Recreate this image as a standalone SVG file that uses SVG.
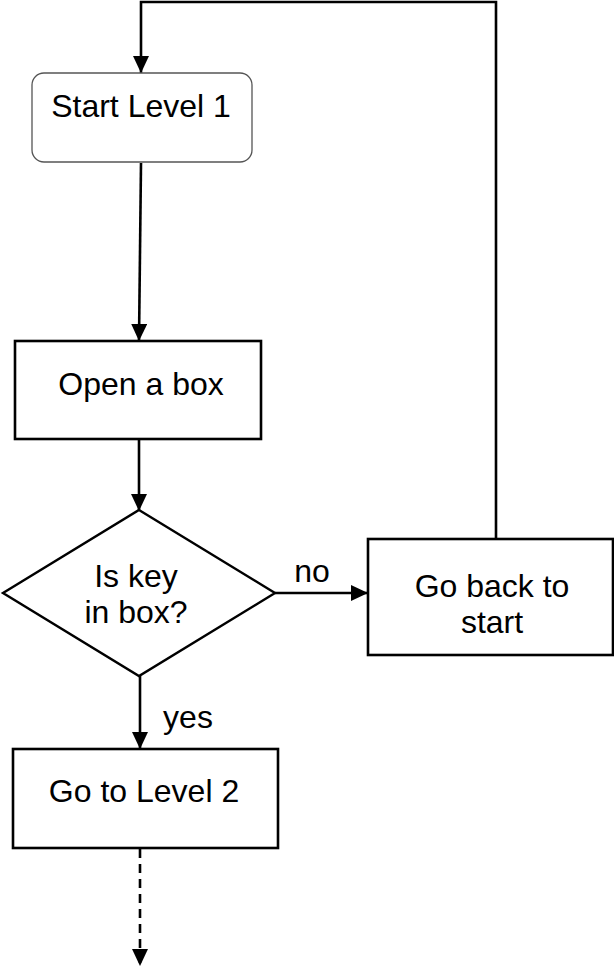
<svg xmlns="http://www.w3.org/2000/svg" width="614" height="966" viewBox="0 0 614 966">
<style>
  .lbl { font-family: "Liberation Sans", Arial, sans-serif; font-size: 32px; fill: #000; text-anchor: middle; }
  .box { fill: #fff; stroke: #000; stroke-width: 2.6; }
  .edge { fill: none; stroke: #000; stroke-width: 2.6; }
</style>
<defs>
  <marker id="arr" markerUnits="userSpaceOnUse" markerWidth="17" markerHeight="16" refX="17" refY="8" orient="auto">
    <path d="M0,0 L17,8 L0,16 z" fill="#000"/>
  </marker>
</defs>
<rect width="614" height="966" fill="#fff"/>
<g id="connectors">
  <polyline class="edge" points="496,539 496,2 141,2 141,73" marker-end="url(#arr)"/>
  <line class="edge" x1="141" y1="163" x2="139" y2="341" marker-end="url(#arr)"/>
  <line class="edge" x1="139" y1="440" x2="139" y2="511" marker-end="url(#arr)"/>
  <line class="edge" x1="275" y1="593" x2="368" y2="593" marker-end="url(#arr)"/>
  <line class="edge" x1="140" y1="676" x2="140" y2="749" marker-end="url(#arr)"/>
  <line class="edge" x1="140" y1="849" x2="140" y2="966" stroke-dasharray="9,6" marker-end="url(#arr)"/>
  <text class="lbl" x="312" y="582">no</text>
  <text class="lbl" x="188" y="728">yes</text>
</g>
<g id="start">
  <rect x="32" y="73" width="220" height="89" rx="12" ry="12" fill="#fff" stroke="#555" stroke-width="1.3"/>
  <text class="lbl" x="141" y="117">Start Level 1</text>
</g>
<g id="open">
  <rect class="box" x="15" y="341" width="246" height="98"/>
  <text class="lbl" x="141" y="395">Open a box</text>
</g>
<g id="decision">
  <polygon points="139,510 275,593 139,676 3,593" fill="#fff" stroke="#000" stroke-width="2.4"/>
  <text class="lbl" x="136" y="587">Is key</text>
  <text class="lbl" x="136" y="623">in box?</text>
</g>
<g id="goback">
  <rect class="box" x="368" y="539" width="245" height="116"/>
  <text class="lbl" x="492" y="597">Go back to</text>
  <text class="lbl" x="492" y="633">start</text>
</g>
<g id="level2">
  <rect class="box" x="13" y="749" width="265" height="99"/>
  <text class="lbl" x="144" y="802">Go to Level 2</text>
</g>
</svg>
